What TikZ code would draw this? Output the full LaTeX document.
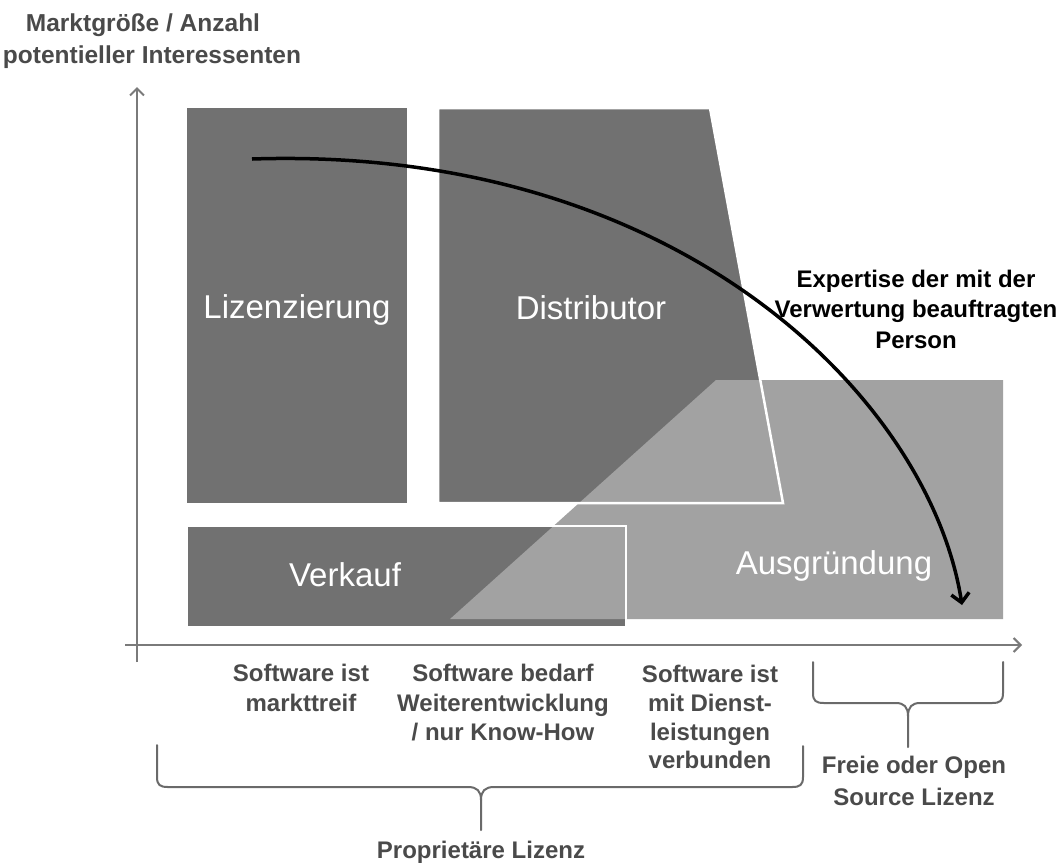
\documentclass[tikz,border=0pt]{standalone}
\usepackage{fontspec}
\setmainfont{Liberation Sans}
\usetikzlibrary{arrows.meta}
\definecolor{darkbox}{HTML}{717171}
\definecolor{lightbox}{HTML}{A2A2A2}
\definecolor{labelgray}{HTML}{4A4A4A}
\definecolor{axisgray}{HTML}{7A7A7A}
\definecolor{bracegray}{HTML}{6A6A6A}
\begin{document}
\begin{tikzpicture}[x=1pt,y=-1pt,
  bigtxt/.style={text=white,font=\fontsize{33}{38}\selectfont,anchor=base,inner sep=0pt},
  smalltxt/.style={text=labelgray,font=\bfseries\fontsize{24}{29}\selectfont,anchor=base,inner sep=0pt},
  axtxt/.style={text=labelgray,font=\bfseries\fontsize{24.5}{29}\selectfont,anchor=base,inner sep=0pt},
  blacktxt/.style={text=black,font=\bfseries\fontsize{24}{29}\selectfont,anchor=base,inner sep=0pt},
  axisline/.style={draw=axisgray,line width=2pt,-{Straight Barb[length=7pt,width=14pt]}},
  bracestyle/.style={draw=bracegray,line width=2pt,line cap=round},
  whiteedge/.style={draw=white,line width=2.5pt,line join=miter}]
\useasboundingbox (0,0) rectangle (1064,863);
\fill[white] (0,0) rectangle (1064,863);

% boxes
\fill[darkbox] (187,108) rectangle (407,503);
\fill[darkbox] (438,108) -- (710,108) -- (783,503) -- (438,503) -- cycle;
\fill[darkbox] (187,526) rectangle (626,627);
\fill[lightbox] (450,619) -- (716,380) -- (1003,380) -- (1003,619) -- cycle;
\draw[whiteedge] (438,108) -- (710,108) -- (783,503) -- (438,503) -- cycle;
\draw[whiteedge] (187,526) rectangle (626,627);

% box labels
\node[bigtxt] (liz) at (297,318) {Lizenzierung};
\node[bigtxt] (dist) at (591,319) {Distributor};
\node[bigtxt] (verk) at (345,586) {Verkauf};
\node[bigtxt] (ausg) at (834,574) {Ausgründung};

% axes
\coordinate (yaxb) at (137,662);
\coordinate (yaxt) at (137,87);
\coordinate (xaxl) at (125,645);
\coordinate (xaxr) at (1022,645);
\draw[axisline] (yaxb) -- (yaxt);
\draw[axisline] (xaxl) -- (xaxr);

\node[axtxt] (ylab1) at (143,31) {Marktgröße / Anzahl};
\node[axtxt] (ylab2) at (152,63) {potentieller Interessenten};

% expertise curve
\coordinate (cs) at (252,159);
\coordinate (ce) at (962,605);
\draw[line width=3.5pt,-{Straight Barb[length=9pt,width=18pt]}] (cs) .. controls (680,145) and (930,400) .. (ce);

\node[blacktxt] (exp1) at (916,287) {Expertise der mit der};
\node[blacktxt] (exp2) at (916,317) {Verwertung beauftragten};
\node[blacktxt] (exp3) at (916,348) {Person};

% bottom labels
\node[smalltxt] (a1) at (301,681) {Software ist};
\node[smalltxt] (a2) at (301,711) {markttreif};
\node[smalltxt] (b1) at (503,681) {Software bedarf};
\node[smalltxt] (b2) at (503,711) {Weiterentwicklung};
\node[smalltxt] (b3) at (503,740) {/ nur Know-How};
\node[smalltxt] (c1) at (710,682) {Software ist};
\node[smalltxt] (c2) at (710,711) {mit Dienst-};
\node[smalltxt] (c3) at (710,740) {leistungen};
\node[smalltxt] (c4) at (710,768) {verbunden};
\node[smalltxt] (d1) at (914,773) {Freie oder Open};
\node[smalltxt] (d2) at (914,805) {Source Lizenz};
\node[smalltxt] (e1) at (481,858) {Proprietäre Lizenz};

% braces
\draw[bracestyle] (157,745) -- (157,777) .. controls (157,785) and (160,787) .. (168,787) -- (468,787) .. controls (477,787) and (481,791) .. (481,800) -- (481,830);
\draw[bracestyle] (803,746) -- (803,777) .. controls (803,785) and (800,787) .. (792,787) -- (494,787) .. controls (485,787) and (481,791) .. (481,800);
\draw[bracestyle] (813,662) -- (813,693) .. controls (813,701) and (816,703) .. (824,703) -- (896,703) .. controls (904,703) and (908,707) .. (908,716) -- (908,747);
\draw[bracestyle] (1003,662) -- (1003,693) .. controls (1003,701) and (1000,703) .. (992,703) -- (920,703) .. controls (912,703) and (908,707) .. (908,716);
\end{tikzpicture}
\end{document}
